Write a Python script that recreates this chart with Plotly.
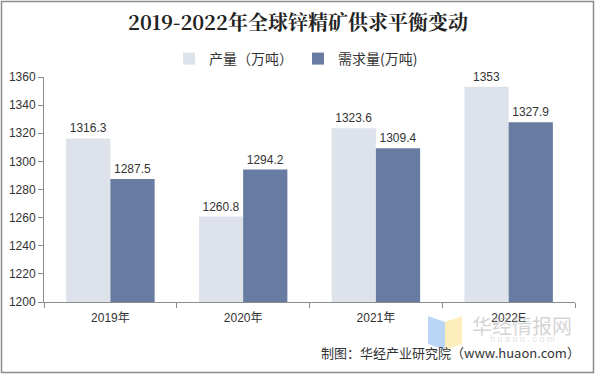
import plotly.graph_objects as go

categories = ["2019年", "2020年", "2021年", "2022E"]
production = [1316.3, 1260.8, 1323.6, 1353]
demand = [1287.5, 1294.2, 1309.4, 1327.9]
prod_labels = ["1316.3", "1260.8", "1323.6", "1353"]
demand_labels = ["1287.5", "1294.2", "1309.4", "1327.9"]
yticks = [1200, 1220, 1240, 1260, 1280, 1300, 1320, 1340, 1360]

W, H = 596, 375
L, R, T, B = 44, 21, 77, 73
pw, ph = W - L - R, H - T - B

def px(x):
    return (x - L) / pw

def py(y):
    return (H - B - y) / ph

font_main = "Arial, Liberation Sans, Noto Sans CJK SC, sans-serif"
font_cjk = "Noto Sans CJK SC, sans-serif"

fig = go.Figure()
fig.add_trace(go.Bar(
    name="产量（万吨）", x=categories, y=production,
    marker=dict(color="#DEE2EB", line=dict(width=0)),
    text=prod_labels, textposition="outside", cliponaxis=False,
    textfont=dict(size=12, color="#333333", family=font_main),
))
fig.add_trace(go.Bar(
    name="需求量(万吨)", x=categories, y=demand,
    marker=dict(color="#687CA1", line=dict(width=0)),
    text=demand_labels, textposition="outside", cliponaxis=False,
    textfont=dict(size=12, color="#333333", family=font_main),
))

shapes = [
    dict(type="rect", xref="paper", yref="paper",
         x0=px(1.5), x1=px(W - 2.5), y0=py(H - 2.5), y1=py(1.5),
         line=dict(color="#8C8C8C", width=1.5), fillcolor="rgba(0,0,0,0)", layer="below"),
    # watermark logo
    dict(type="path", xref="paper", yref="paper",
         path=f"M {px(428)} {py(316)} L {px(445)} {py(322)} L {px(445)} {py(350)} L {px(428)} {py(344)} Z",
         fillcolor="rgba(140,185,240,0.6)", line=dict(width=0), layer="above"),
    dict(type="path", xref="paper", yref="paper",
         path=f"M {px(445)} {py(322)} L {px(462)} {py(316)} L {px(462)} {py(344)} L {px(445)} {py(350)} Z",
         fillcolor="rgba(250,225,140,0.6)", line=dict(width=0), layer="above"),
]

annotations = [
    dict(text="<b>2019-2022年全球锌精矿供求平衡变动</b>", xref="paper", yref="paper",
         x=px(298), y=py(22), xanchor="center", yanchor="middle", showarrow=False,
         font=dict(size=20, color="#222222", family="Noto Serif CJK SC, Noto Sans CJK SC, serif")),
    dict(text="华经情报网", xref="paper", yref="paper", x=px(522), y=py(325),
         xanchor="center", yanchor="middle", showarrow=False,
         font=dict(size=20, color="rgba(170,170,170,0.5)", family=font_cjk)),
    dict(text="h u a o n . c o m", xref="paper", yref="paper", x=px(522), y=py(339),
         xanchor="center", yanchor="middle", showarrow=False,
         font=dict(size=9, color="rgba(190,190,190,0.5)", family=font_main)),
    dict(text="制图：华经产业研究院（www.huaon.com）", xref="paper", yref="paper",
         x=px(582), y=py(352), xanchor="right", yanchor="middle", showarrow=False,
         font=dict(size=13, color="#333333", family=font_cjk)),
]

fig.update_layout(
    width=W, height=H,
    margin=dict(l=L, r=R, t=T, b=B, pad=0, autoexpand=False),
    paper_bgcolor="white", plot_bgcolor="white",
    barmode="group", bargap=1/3, bargroupgap=0,
    showlegend=True,
    legend=dict(orientation="h", x=px(296), y=py(59), xanchor="center", yanchor="middle",
                font=dict(size=14, color="#333333", family=font_cjk),
                itemwidth=30, itemsizing="constant", bgcolor="rgba(0,0,0,0)",
                tracegroupgap=0),
    xaxis=dict(type="category", showline=True, linecolor="#8C8C8C", linewidth=1,
               ticks="outside", tickson="boundaries", ticklen=5, tickcolor="#8C8C8C",
               ticklabelstandoff=5,
               tickfont=dict(size=12, color="#333333", family=font_main),
               showgrid=False, zeroline=False),
    yaxis=dict(range=[1200, 1360], tickvals=yticks, showline=True, linecolor="#8C8C8C",
               linewidth=1, ticks="outside", ticklen=5, tickcolor="#8C8C8C",
               tickfont=dict(size=12, color="#333333", family=font_main),
               showgrid=False, zeroline=False),
    shapes=shapes,
    annotations=annotations,
)

fig.write_html("out.html", post_script="document.body.style.margin='0';",
               config={"displayModeBar": False})
